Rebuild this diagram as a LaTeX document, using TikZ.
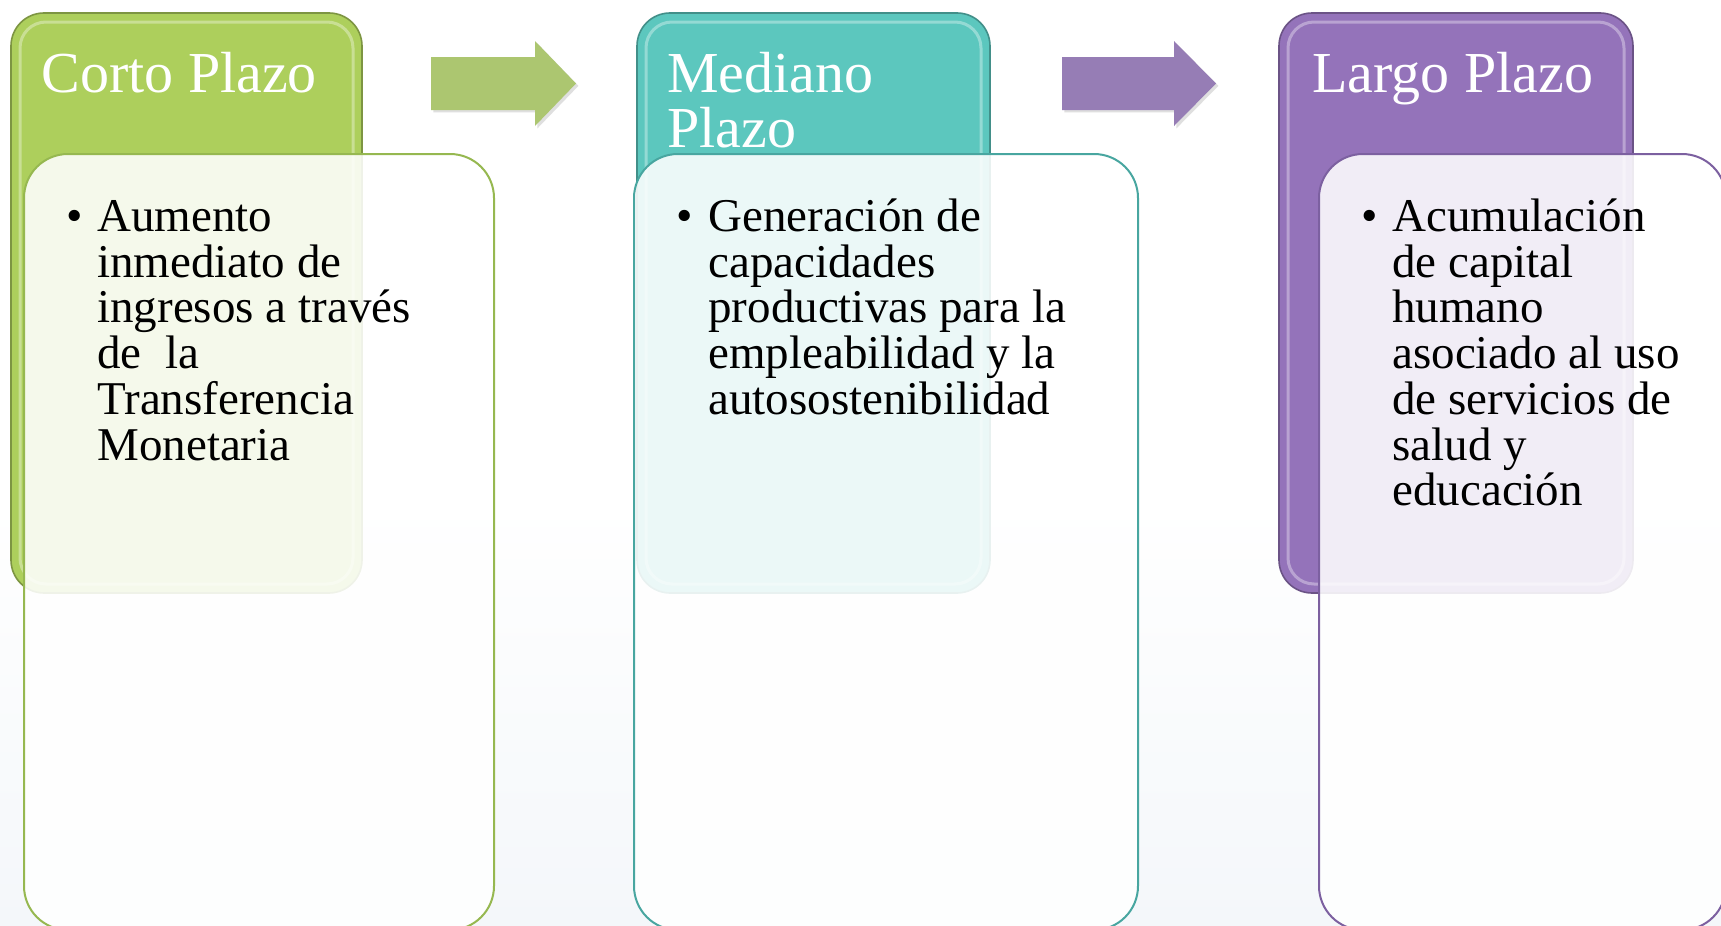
\documentclass[tikz,border=0pt]{standalone}
\usepackage{fontspec}
\setmainfont{Liberation Serif}
\usetikzlibrary{shadows}
\definecolor{bgtint}{RGB}{244,247,250}
\definecolor{hdrgreen}{RGB}{173,207,92}
\definecolor{arrgreen}{RGB}{172,198,112}
\definecolor{bodygreen}{RGB}{150,184,80}
\definecolor{hdrteal}{RGB}{92,199,190}
\definecolor{bodyteal}{RGB}{72,166,160}
\definecolor{hdrpurple}{RGB}{148,115,186}
\definecolor{arrpurple}{RGB}{150,125,181}
\definecolor{bodypurple}{RGB}{124,96,160}

\begin{document}
\begin{tikzpicture}[x=0.5pt, y=-0.5pt]
	\tikzstyle{header} = [line width=0.8pt, rounded corners=16.5pt]
	\tikzstyle{glint} = [white, opacity=0.35, line width=1.5pt, rounded corners=13pt]
	\tikzstyle{bodybox} = [fill=white, fill opacity=0.88, line width=1pt, rounded corners=22pt]
	\tikzstyle{blockarrow} = [drop shadow={shadow xshift=1.2pt, shadow yshift=-1.2pt, opacity=0.25}]
	\tikzstyle{title} = [text=white, inner sep=0, align=left, font=\fontsize{29}{27.5}\selectfont]
	\tikzstyle{item} = [text=black, inner sep=0, align=left, font=\fontsize{23.5}{22.85}\selectfont]
	\useasboundingbox (0,0) rectangle (1721,926);
	\fill[white] (0,0) rectangle (1721,926);
	\shade[top color=white, bottom color=bgtint] (0,500) rectangle (1721,926);
	\fill[header, fill=hdrgreen, draw=hdrgreen!72!black] (11,13) rectangle (362,593);
	\draw[glint] (20,22) rectangle (353,584);
	\fill[header, fill=hdrteal, draw=hdrteal!72!black] (637,13) rectangle (990,593);
	\draw[glint] (646,22) rectangle (981,584);
	\fill[header, fill=hdrpurple, draw=hdrpurple!72!black] (1279,13) rectangle (1633,593);
	\draw[glint] (1288,22) rectangle (1624,584);
	\fill[blockarrow, arrgreen] (431,57) -- (535,57) -- (535,41) -- (576,83.5) -- (535,126) -- (535,110) -- (431,110) -- cycle;
	\fill[blockarrow, arrpurple] (1062,57) -- (1174,57) -- (1174,41) -- (1216,83.5) -- (1174,126) -- (1174,110) -- (1062,110) -- cycle;
	\draw[bodybox, draw=bodygreen] (24,154) rectangle (494,930);
	\draw[bodybox, draw=bodyteal] (634,154) rectangle (1138,930);
	\draw[bodybox, draw=bodypurple] (1319,154) rectangle (1726,930);
	\node[title, anchor=base west] (corto) at (41,92) {Corto Plazo};
	\node[title, anchor=base west] (mediano) at (667,147) {Mediano\\Plazo};
	\node[title, anchor=base west] (largo) at (1312,92) {Largo Plazo};
	\node[item, anchor=base] (b1) at (75,231.5) {\textbullet};
	\node[item, anchor=base west] (t1) at (97,460) {Aumento\\inmediato de\\ingresos a través\\de\ \ la\\Transferencia\\Monetaria};
	\node[item, anchor=base] (b2) at (685,231.5) {\textbullet};
	\node[item, anchor=base west] (t2) at (708,414.3) {Generación de\\capacidades\\productivas para la\\empleabilidad y la\\autosostenibilidad};
	\node[item, anchor=base] (b3) at (1370,231.5) {\textbullet};
	\node[item, anchor=base west] (t3) at (1392,505.7) {Acumulación\\de capital\\humano\\asociado al uso\\de servicios de\\salud y\\educación};
\end{tikzpicture}
\end{document}
